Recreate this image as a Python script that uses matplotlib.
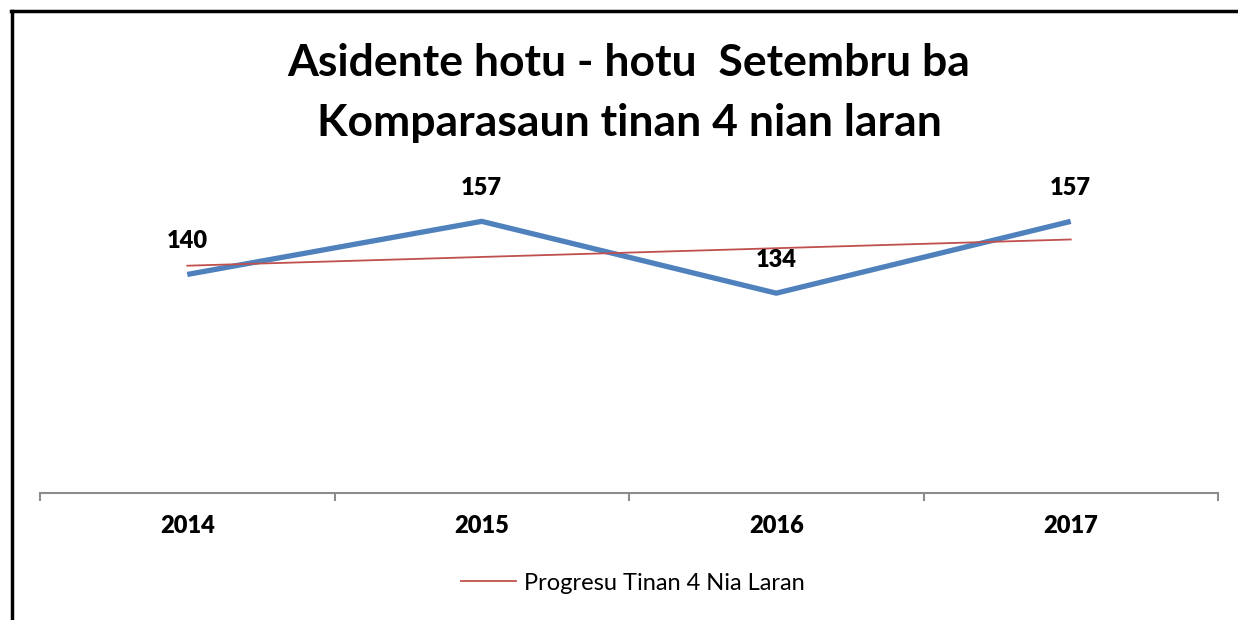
import matplotlib.pyplot as plt
import numpy as np
from matplotlib.lines import Line2D

plt.rcParams["font.family"] = ["Lato", "DejaVu Sans"]

years = ["2014", "2015", "2016", "2017"]
accidents = [140, 157, 134, 157]
title = "Asidente hotu - hotu  Setembru ba\nKomparasaun tinan 4 nian laran"
trend_label = "Progresu Tinan 4 Nia Laran"

BLUE = "#4F81BD"
RED = "#C0504D"
GRID = "#8C8C8C"

x = np.arange(len(years))
slope, intercept = np.polyfit(x, accidents, 1)
trend = slope * x + intercept

fig = plt.figure(figsize=(12.38, 6.2), dpi=100)
ax = fig.add_axes([40 / 1238, 127 / 620, 1178 / 1238, 281 / 620])

ax.plot(x, accidents, color=BLUE, linewidth=3.8, solid_capstyle="butt")
ax.plot(x, trend, color=RED, linewidth=1.3, label=trend_label)

for xi, v in zip(x, accidents):
    ax.annotate(str(v), (xi, v), xytext=(0, 24), textcoords="offset points",
                ha="center", va="center", fontsize=17, fontweight="heavy")

ax.set_xlim(-0.5, len(years) - 0.5)
ax.set_ylim(70, 160)
ax.set_yticks([])
ax.set_xticks(x)
ax.set_xticklabels(years, fontsize=17, fontweight="heavy")
ax.set_xticks(np.arange(len(years) + 1) - 0.5, minor=True)
ax.tick_params(axis="x", which="major", length=0, pad=16)
ax.tick_params(axis="x", which="minor", length=6, width=1.5, color=GRID)
for side in ["left", "right", "top"]:
    ax.spines[side].set_visible(False)
ax.spines["bottom"].set_color(GRID)
ax.spines["bottom"].set_linewidth(1.5)

fig.text(629 / 1238, 1 - 93 / 620, title, ha="center", va="center",
         fontsize=32, fontweight="bold", linespacing=1.58)

fig.legend(loc="center", bbox_to_anchor=(633 / 1238, 1 - 583 / 620),
           frameon=False, fontsize=17, handlelength=2.3, handletextpad=0.35)

# outer chart frame
fig.add_artist(Line2D([12 / 1238, 12 / 1238], [0, 1 - 11 / 620],
                      color="black", linewidth=2.5, transform=fig.transFigure))
fig.add_artist(Line2D([11 / 1238, 1], [1 - 11 / 620, 1 - 11 / 620],
                      color="black", linewidth=2.5, transform=fig.transFigure))

fig.savefig("out.png", dpi=100)
